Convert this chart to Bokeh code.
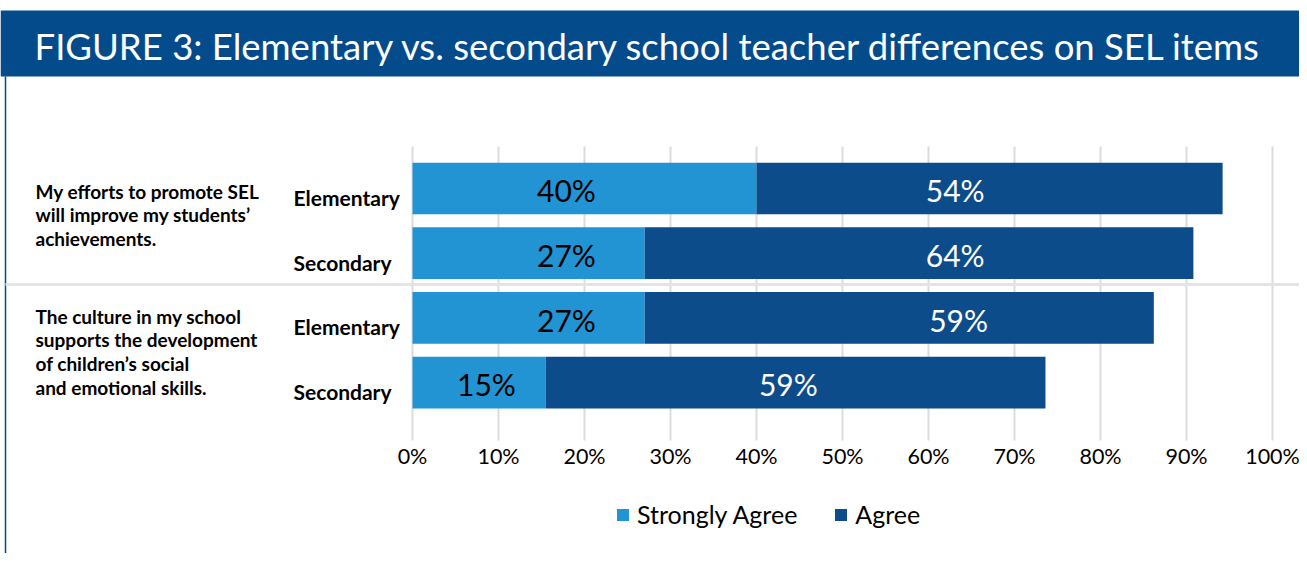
from bokeh.plotting import figure
from bokeh.models import Range1d, Legend, LegendItem, ColumnDataSource
from bokeh.core.properties import value
from bokeh.embed import file_html
from bokeh.resources import INLINE

# ---------------- data ----------------
TITLE = "FIGURE 3: Elementary vs. secondary school teacher differences on SEL items"
ITEMS = [
    "My efforts to promote SEL\nwill improve my students\u2019\nachievements.",
    "The culture in my school\nsupports the development\nof children\u2019s social\nand emotional skills.",
]
GROUPS = ["Elementary", "Secondary", "Elementary", "Secondary"]
STRONGLY_AGREE = [40, 27, 27, 15.5]
AGREE = [54.2, 63.8, 59.2, 58.1]
SA_LABELS = ["40%", "27%", "27%", "15%"]
A_LABELS = ["54%", "64%", "59%", "59%"]
TICKS = [0, 10, 20, 30, 40, 50, 60, 70, 80, 90, 100]
TICK_LABELS = ["0%", "10%", "20%", "30%", "40%", "50%", "60%", "70%", "80%", "90%", "100%"]
SERIES = ["Strongly Agree", "Agree"]

# label anchor positions (in % units along the axis), as placed in the original
SA_LABEL_POS = [17.9, 17.9, 17.9, 8.6]
A_LABEL_POS = [63.1, 63.1, 63.5, 43.7]

# ---------------- layout helpers ----------------
W, H = 1299, 553
X0_PX, PX_PER_PCT = 412, 8.6
ROW0_PX, PX_PER_ROW = 188, 64.67


def dx(px):
    return (px - X0_PX) / PX_PER_PCT


def dy(py):
    return (py - ROW0_PX) / PX_PER_ROW


C_SA = "#2293d3"
C_A = "#0c4c8b"
C_TITLE = "#044b8c"
FONT = "Lato"

rows = list(range(len(GROUPS)))
sa_end = STRONGLY_AGREE
a_end = [s + a for s, a in zip(STRONGLY_AGREE, AGREE)]

p = figure(width=W, height=H, output_backend="svg", toolbar_location=None,
           x_range=Range1d(dx(0), dx(W)), y_range=Range1d(dy(H), dy(0)),
           x_axis_type=None, y_axis_type=None, min_border=0,
           outline_line_color=None, background_fill_color="white",
           border_fill_color="white")
p.grid.visible = False

# title banner
p.quad(left=[dx(0)], right=[dx(W)], top=[dy(10)], bottom=[dy(76)],
       fill_color=C_TITLE, line_color=None)
p.text(x=[dx(34)], y=[dy(45)], text=[TITLE], text_color="white",
       text_font=value(FONT), text_font_size="36.5px", text_baseline="middle")

# left border
p.segment(x0=[dx(5)], x1=[dx(5)], y0=[dy(76)], y1=[dy(H)],
          line_color=C_TITLE, line_width=1.5)

# gridlines
p.segment(x0=TICKS, x1=TICKS, y0=[dy(146)] * len(TICKS), y1=[dy(440)] * len(TICKS),
          line_color="#dcdcdc", line_width=2)

# separator between items
p.segment(x0=[dx(5)], x1=[dx(W)], y0=[dy(284)], y1=[dy(284)],
          line_color="#e4e4e4", line_width=3)

# bars
src = ColumnDataSource(dict(y=rows, sa=sa_end, a0=sa_end, a1=a_end))
r_sa = p.hbar(y="y", left=0, right="sa", height=0.8, source=src,
              fill_color=C_SA, line_color=None)
r_a = p.hbar(y="y", left="a0", right="a1", height=0.8, source=src,
             fill_color=C_A, line_color=None)

# bar labels
p.text(x=SA_LABEL_POS, y=[r + 0.03 for r in rows], text=SA_LABELS, text_color="black",
       text_font=value(FONT), text_font_size="30px",
       text_baseline="middle", text_align="center")
p.text(x=A_LABEL_POS, y=[r + 0.03 for r in rows], text=A_LABELS, text_color="white",
       text_font=value(FONT), text_font_size="30px",
       text_baseline="middle", text_align="center")

# group labels
p.text(x=[dx(293)] * len(rows), y=[r + 0.14 for r in rows], text=GROUPS,
       text_color="black", text_font=value(FONT), text_font_size="21px",
       text_font_style="bold", text_baseline="middle", text_align="left")

# item labels
p.text(x=[dx(35), dx(35)], y=[dy(179), dy(304)], text=ITEMS,
       text_color="black", text_font=value(FONT), text_font_size="19px",
       text_font_style="bold", text_baseline="top", text_align="left",
       text_line_height=1.03)

# x tick labels
p.text(x=TICKS, y=[dy(455)] * len(TICKS), text=TICK_LABELS,
       text_color="black", text_font=value(FONT), text_font_size="21.5px",
       text_baseline="middle", text_align="center")

# legend
legend = Legend(items=[LegendItem(label=SERIES[0], renderers=[r_sa]),
                       LegendItem(label=SERIES[1], renderers=[r_a])],
                orientation="horizontal", location=(615, 24),
                padding=0, margin=0, spacing=36,
                glyph_width=15, glyph_height=15, label_standoff=7,
                label_text_font=FONT, label_text_font_size="25px",
                label_text_color="black", border_line_color=None,
                background_fill_alpha=0)
p.add_layout(legend)

open("out.html", "w").write(file_html(p, INLINE))
